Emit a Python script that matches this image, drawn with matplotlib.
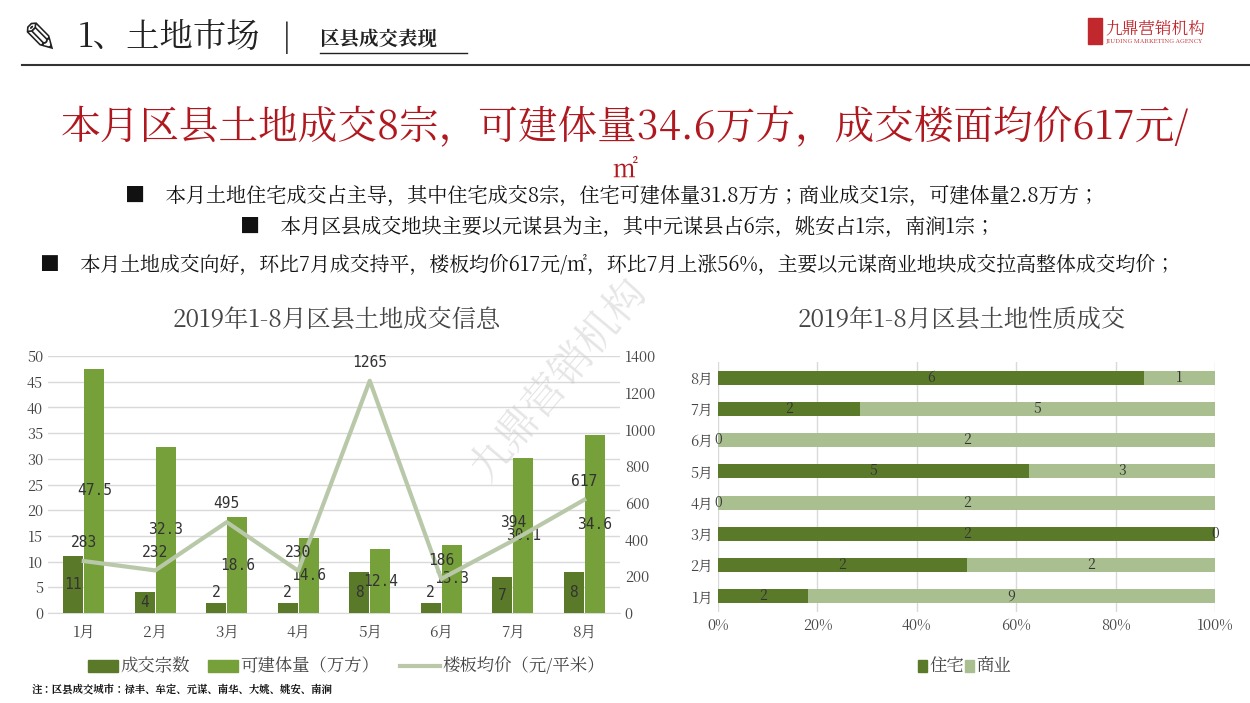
import matplotlib
matplotlib.use("Agg")
import matplotlib.pyplot as plt
from matplotlib import font_manager as fm
import numpy as np
from matplotlib.lines import Line2D
from matplotlib.patches import Rectangle

cjk = [f.name for f in fm.fontManager.ttflist if 'CJK' in f.name]
pref = [n for n in cjk if 'Serif' in n and 'SC' in n] or [n for n in cjk if 'SC' in n] or cjk
cjkname = pref[0] if pref else 'Noto Sans CJK SC'
plt.rcParams['font.family'] = [cjkname, 'DejaVu Sans']
plt.rcParams['font.sans-serif'] = [cjkname, 'DejaVu Sans']

months = ['1月', '2月', '3月', '4月', '5月', '6月', '7月', '8月']
deals = [11, 4, 2, 2, 8, 2, 7, 8]
volume = [47.5, 32.3, 18.6, 14.6, 12.4, 13.3, 30.1, 34.6]
price = [283, 232, 495, 230, 1265, 186, 394, 617]
resid = [2, 2, 2, 0, 5, 0, 2, 6]
comm = [9, 2, 0, 2, 3, 2, 5, 1]

dark = '#5a7a2a'
mid = '#76a03a'
light = '#b8c8a8'
rlight = '#a9bf8f'

fig = plt.figure(figsize=(12.5, 7.03), dpi=100)
W, H = 1250, 703
def fx(x): return x / W
def fy(y): return 1 - y / H

# header
fig.text(fx(78), fy(38), '1、土地市场', fontsize=24, va='center', color='#222')
fig.text(fx(282), fy(38), '|', fontsize=22, va='center', color='#222')
fig.text(fx(320), fy(40), '区县成交表现', fontsize=14, va='center', color='#222', fontweight='bold')
fig.add_artist(Line2D([fx(320), fx(467)], [fy(53), fy(53)], color='#222', lw=1))
fig.add_artist(Line2D([fx(22), fx(1250)], [fy(65), fy(65)], color='#333', lw=1.5))
fig.text(fx(22), fy(40), '✎', fontsize=30, va='center', color='#222', family='DejaVu Sans')
fig.add_artist(Rectangle((fx(1088), fy(44)), fx(14), fy(18) - fy(44), color='#c0282d'))
fig.text(fx(1105), fy(29), '九鼎营销机构', fontsize=12, va='center', color='#c0282d')
fig.text(fx(1105), fy(41), 'JIUDING MARKETING AGENCY', fontsize=4.5, va='center', color='#c0282d')

fig.text(fx(625), fy(128), '本月区县土地成交8宗，可建体量34.6万方，成交楼面均价617元/', fontsize=28.5,
         ha='center', va='center', color='#b01820')
fig.text(fx(625), fy(170), '㎡', fontsize=18, ha='center', va='center', color='#b01820')
fig.text(fx(125), fy(195), '■    本月土地住宅成交占主导，其中住宅成交8宗，住宅可建体量31.8万方；商业成交1宗，可建体量2.8万方；',
         fontsize=14.5, va='center', color='#111')
fig.text(fx(240), fy(227), '■    本月区县成交地块主要以元谋县为主，其中元谋县占6宗，姚安占1宗，南涧1宗；',
         fontsize=14.5, va='center', color='#111')
fig.text(fx(40), fy(265), '■    本月土地成交向好，环比7月成交持平，楼板均价617元/㎡，环比7月上涨56%，主要以元谋商业地块成交拉高整体成交均价；',
         fontsize=14.3, va='center', color='#111')

# left chart
ax = fig.add_axes([fx(48), fy(613), fx(620) - fx(48), fy(356) - fy(613)])
x = np.arange(len(months))
w = 0.28
ax.bar(x - 0.15, deals, w, color=dark, zorder=3)
ax.bar(x + 0.15, volume, w, color=mid, zorder=3)
ax.set_ylim(0, 50)
ax.set_yticks(range(0, 51, 5))
ax.set_xlim(-0.5, 7.5)
ax.set_xticks(x)
ax.set_xticklabels(months, fontsize=11, color='#444')
ax.tick_params(axis='y', labelsize=10.5, colors='#444', length=0)
ax.tick_params(axis='x', length=0, pad=8)
ax.grid(axis='y', color='#d9d9d9', lw=1, zorder=0)
for s in ['top', 'right', 'left']:
    ax.spines[s].set_visible(False)
ax.spines['bottom'].set_color('#d9d9d9')
ax2 = ax.twinx()
ax2.plot(x, price, color=light, lw=3, zorder=4)
ax2.set_ylim(0, 1400)
ax2.set_yticks(range(0, 1401, 200))
ax2.tick_params(axis='y', labelsize=10.5, colors='#444', length=0)
for s in ax2.spines.values():
    s.set_visible(False)
for i in range(len(months)):
    ax.text(x[i] - 0.15, deals[i] / 2 if deals[i] > 3 else deals[i] + 2, str(deals[i]),
            ha='center', va='center', fontsize=10.5, color='#333', zorder=5,
            family='DejaVu Sans Mono')
    ax.text(x[i] + 0.15, volume[i] / 2, str(volume[i]), ha='center', va='center',
            fontsize=10.5, color='#333', zorder=5, family='DejaVu Sans Mono')
    ax2.text(x[i], price[i] + 100, str(price[i]), ha='center', va='center',
             fontsize=10.5, color='#333', zorder=5, family='DejaVu Sans Mono')
fig.text(fx(337), fy(320), '2019年1-8月区县土地成交信息', fontsize=17.5, ha='center', va='center', color='#444')
# legend
fig.add_artist(Rectangle((fx(88), fy(672)), fx(30), fy(660) - fy(672), color=dark))
fig.text(fx(120), fy(666), '成交宗数', fontsize=12.5, va='center', color='#444')
fig.add_artist(Rectangle((fx(208), fy(672)), fx(30), fy(660) - fy(672), color=mid))
fig.text(fx(240), fy(666), '可建体量（万方）', fontsize=12.5, va='center', color='#444')
fig.add_artist(Line2D([fx(400), fx(440)], [fy(666), fy(666)], color=light, lw=3))
fig.text(fx(442), fy(666), '楼板均价（元/平米）', fontsize=12.5, va='center', color='#444')
fig.text(fx(32), fy(690), '注：区县成交城市：禄丰、牟定、元谋、南华、大姚、姚安、南涧', fontsize=7.5,
         va='center', color='#111', fontweight='bold')

# right chart
bx = fig.add_axes([fx(718), fy(612), fx(1215) - fx(718), fy(362) - fy(612)])
tot = np.array(resid) + np.array(comm)
rp = np.array(resid) / tot
cp = np.array(comm) / tot
y = np.arange(len(months))
bx.barh(y, rp, 0.45, color=dark, zorder=3)
bx.barh(y, cp, 0.45, left=rp, color=rlight, zorder=3)
for i in range(len(months)):
    bx.text(rp[i] / 2, y[i], str(resid[i]), ha='center', va='center', fontsize=10, color='#333', zorder=5)
    bx.text(rp[i] + cp[i] / 2, y[i], str(comm[i]), ha='center', va='center', fontsize=10, color='#333', zorder=5)
bx.set_xlim(0, 1)
bx.set_ylim(-0.5, 7.5)
bx.set_yticks(y)
bx.set_yticklabels(months, fontsize=10.5, color='#444')
bx.set_xticks(np.linspace(0, 1, 6))
bx.set_xticklabels([f'{int(v)}%' for v in np.linspace(0, 100, 6)], fontsize=10.5, color='#444')
bx.tick_params(length=0)
bx.grid(axis='x', color='#d9d9d9', lw=1, zorder=0)
for s in bx.spines.values():
    s.set_visible(False)
fig.text(fx(962), fy(320), '2019年1-8月区县土地性质成交', fontsize=17.5, ha='center', va='center', color='#444')
fig.add_artist(Rectangle((fx(918), fy(672)), fx(9), fy(660) - fy(672), color=dark))
fig.text(fx(929), fy(666), '住宅', fontsize=12.5, va='center', color='#444')
fig.add_artist(Rectangle((fx(965), fy(672)), fx(9), fy(660) - fy(672), color=rlight))
fig.text(fx(976), fy(666), '商业', fontsize=12.5, va='center', color='#444')

fig.text(fx(560), fy(380), '九鼎营销机构', fontsize=30, rotation=50, ha='center', va='center',
         color='#cccccc', alpha=0.5)

fig.savefig('out.png', dpi=100)
